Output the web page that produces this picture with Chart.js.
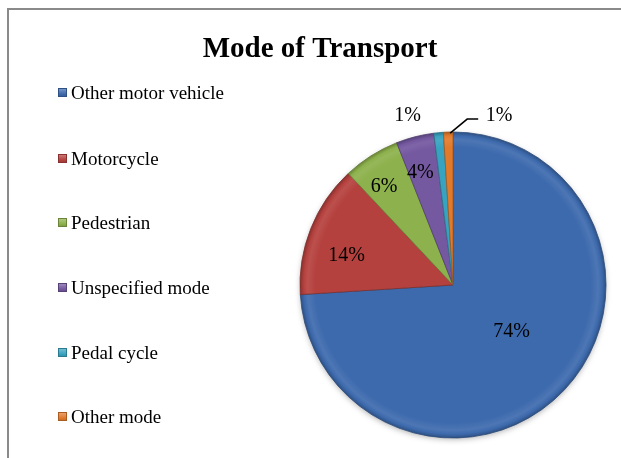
<!doctype html>
<html lang="en">
<head>
<meta charset="utf-8">
<title>Mode of Transport</title>
<script src="https://cdn.jsdelivr.net/npm/chart.js"></script>
<style>
  html, body { margin: 0; padding: 0; background: #fff; overflow: hidden; width: 621px; height: 458px; }
  #frame { position: absolute; left: 7px; top: 8px; width: 700px; height: 600px; border: 2px solid #8a8a8a; box-sizing: border-box; }
  #pie { position: absolute; left: 0; top: 0; }
</style>
</head>
<body>
<div id="frame"></div>
<canvas id="pie" width="621" height="458"></canvas>

<script>
const chartTitle = 'Mode of Transport';
const categories = ['Other motor vehicle', 'Motorcycle', 'Pedestrian', 'Unspecified mode', 'Pedal cycle', 'Other mode'];
const shares = [74, 14, 6, 4, 1, 1];
const sliceColors = ['#3d6aad', '#b5413e', '#8db14c', '#7458a0', '#38a3c0', '#e27a2b'];

// where each percentage sits: fraction of radius along the slice middle, then a small nudge
const labelRadius = [0.48, 0.72, 0.78, 0.78, 1, 1];
const labelNudge = [[5, -4], [-4, 11], [-5, 3], [-3, 3], [-31, -17], [51, -16]];
const legendRows = [93, 159, 223, 288, 353, 417];

function shade(hex, amt) {
  let n = parseInt(hex.slice(1), 16);
  let r = (n >> 16) & 255, g = (n >> 8) & 255, b = n & 255;
  const f = v => Math.max(0, Math.min(255, Math.round(amt < 0 ? v * (1 + amt) : v + (255 - v) * amt)));
  return 'rgb(' + f(r) + ',' + f(g) + ',' + f(b) + ')';
}

function bevel(context) {
  const chart = context.chart;
  const base = sliceColors[context.dataIndex];
  const area = chart.chartArea;
  if (!area) return base;
  const cx = (area.left + area.right) / 2;
  const cy = (area.top + area.bottom) / 2;
  const r = Math.min(area.right - area.left, area.bottom - area.top) / 2;
  const g = chart.ctx.createRadialGradient(cx, cy, 0, cx, cy, r);
  g.addColorStop(0, base);
  g.addColorStop(0.9, base);
  g.addColorStop(0.95, shade(base, 0.08));
  g.addColorStop(0.975, base);
  g.addColorStop(1, shade(base, -0.25));
  return g;
}

const pieShadow = {
  id: 'pieShadow',
  beforeDatasetsDraw(chart) {
    const arc = chart.getDatasetMeta(0).data[0];
    if (!arc) return;
    const ctx = chart.ctx;
    ctx.save();
    ctx.shadowColor = 'rgba(0,0,0,0.35)';
    ctx.shadowBlur = 6;
    ctx.shadowOffsetY = 2;
    ctx.fillStyle = '#fff';
    ctx.beginPath();
    ctx.arc(arc.x, arc.y, arc.outerRadius - 1, 0, Math.PI * 2);
    ctx.fill();
    ctx.restore();
  }
};

// title and the left-hand legend, drawn on the same canvas
const sideText = {
  id: 'sideText',
  afterDraw(chart) {
    const ctx = chart.ctx;
    ctx.save();
    ctx.fillStyle = '#000';
    ctx.textAlign = 'center';
    ctx.textBaseline = 'alphabetic';
    ctx.font = 'bold 29px "Liberation Serif", serif';
    ctx.fillText(chartTitle, 320, 57);

    ctx.textAlign = 'left';
    ctx.textBaseline = 'middle';
    ctx.font = '19px "Liberation Serif", serif';
    categories.forEach((name, i) => {
      const y = legendRows[i];
      const c = sliceColors[i];
      const g = ctx.createLinearGradient(0, y - 5, 0, y + 5);
      g.addColorStop(0, shade(c, 0.35));
      g.addColorStop(0.6, c);
      g.addColorStop(1, shade(c, -0.2));
      ctx.fillStyle = g;
      ctx.fillRect(58, y - 5, 9, 9);
      ctx.strokeStyle = shade(c, -0.25);
      ctx.lineWidth = 1;
      ctx.strokeRect(58.5, y - 4.5, 8, 8);
      ctx.fillStyle = '#000';
      ctx.fillText(name, 71, y + 1);
    });
    ctx.restore();
  }
};

const pctLabels = {
  id: 'pctLabels',
  afterDatasetsDraw(chart) {
    const ctx = chart.ctx;
    const arcs = chart.getDatasetMeta(0).data;
    ctx.save();
    ctx.font = '20px "Liberation Serif", serif';
    ctx.fillStyle = '#000';
    ctx.textAlign = 'center';
    ctx.textBaseline = 'middle';
    arcs.forEach((arc, i) => {
      const p = arc.getProps(['x', 'y', 'startAngle', 'endAngle', 'outerRadius'], true);
      const mid = (p.startAngle + p.endAngle) / 2;
      const rr = p.outerRadius * labelRadius[i];
      const ex = p.x + Math.cos(mid) * rr;
      const ey = p.y + Math.sin(mid) * rr;
      const lx = ex + labelNudge[i][0];
      const ly = ey + labelNudge[i][1];
      if (i === arcs.length - 1) {
        // leader line for the last thin slice
        ctx.strokeStyle = '#000';
        ctx.lineWidth = 1.5;
        ctx.beginPath();
        ctx.moveTo(ex + 2, ey + 1);
        ctx.lineTo(lx - 32, ly + 3);
        ctx.lineTo(lx - 21, ly + 3);
        ctx.stroke();
      }
      ctx.fillText(shares[i] + '%', lx, ly);
    });
    ctx.restore();
  }
};

new Chart(document.getElementById('pie'), {
  type: 'pie',
  data: {
    labels: categories,
    datasets: [{
      data: shares,
      backgroundColor: bevel,
      borderColor: sliceColors.map(c => shade(c, -0.3)),
      borderWidth: 0.8,
      hoverOffset: 0,
      radius: 153
    }]
  },
  options: {
    responsive: false,
    animation: false,
    events: [],
    layout: { padding: { left: 300, right: 15, top: 132, bottom: 20 } },
    plugins: {
      legend: { display: false },
      title: { display: false },
      tooltip: { enabled: false }
    }
  },
  plugins: [pieShadow, pctLabels, sideText]
});
</script>
</body>
</html>
